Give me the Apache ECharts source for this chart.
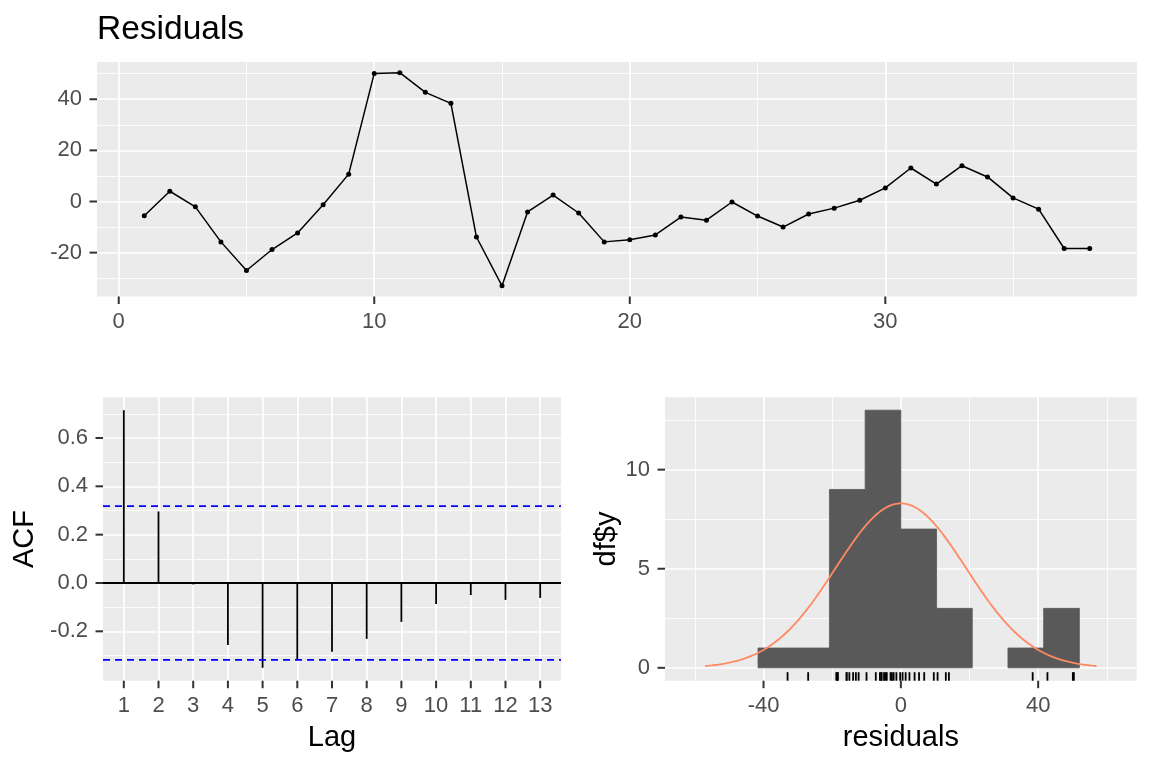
<!DOCTYPE html>
<html>
<head>
<meta charset="utf-8">
<script src="https://cdn.jsdelivr.net/npm/echarts@6/dist/echarts.min.js"></script>
<style>
html,body{margin:0;padding:0;background:#ffffff;}
#c{width:1152px;height:768px;}
</style>
</head>
<body>
<div id="c"></div>
<script>
// ---------- data ----------
const timeIndex = [1,2,3,4,5,6,7,8,9,10,11,12,13,14,15,16,17,18,19,20,21,22,23,24,25,26,27,28,29,30,31,32,33,34,35,36,37,38];
const residuals = [-5.6,4.0,-2.1,-15.8,-27.0,-18.8,-12.3,-1.3,10.7,50.1,50.4,42.7,38.4,-13.9,-33.0,-4.1,2.5,-4.5,-15.8,-15.0,-13.1,-6.1,-7.3,-0.2,-5.7,-10.0,-4.9,-2.6,0.5,5.3,13.1,6.8,14.0,9.6,1.4,-3.0,-18.4,-18.4];

const acfLags = [1,2,3,4,5,6,7,8,9,10,11,12,13];
const acfValues = [0.715,0.296,-0.006,-0.257,-0.351,-0.319,-0.285,-0.231,-0.161,-0.087,-0.050,-0.070,-0.062];
const acfCi = 0.318;

const histStart = -41.6;
const binWidth = 10.4;
const histCounts = [1,1,9,13,7,3,0,1,3];
const normalMean = 0;
const normalSd = 19.0;
const histXRange = [-68.7, 68.7];

const topXTicks = [0,10,20,30];
const topXMinor = [5,15,25,35];
const topYTicks = [-20,0,20,40];
const topYMinor = [-30,-10,10,30,50];
const acfYTicks = [-0.2,0,0.2,0.4,0.6];
const acfYMinor = [-0.3,-0.1,0.1,0.3,0.5,0.7];
const histXTicks = [-40,0,40];
const histXMinor = [-60,-20,20,60];
const histYTicks = [0,5,10];
const histYMinor = [2.5,7.5,12.5];

// ---------- helpers ----------
const FONT = '"Liberation Sans", Arial, sans-serif';
function expand(lo, hi) { const r = hi - lo; return [lo - 0.05 * r, hi + 0.05 * r]; }

const topXRange = expand(Math.min(...timeIndex), Math.max(...timeIndex));
const topYRange = expand(Math.min(...residuals), Math.max(...residuals));
const acfXRange = expand(Math.min(...acfLags), Math.max(...acfLags));
const acfYRange = expand(Math.min(...acfValues, -acfCi), Math.max(...acfValues, acfCi));
const histYRange = expand(0, Math.max(...histCounts));

// tick labels carry their own tick mark (rich-text box) so the mark sits just outside the panel
const TICK_LEN = 7.5;
function labelX(ticks, fmt) {
  return {
    show: true, customValues: ticks, margin: 0,
    formatter: v => '{k| }\n{t|' + (fmt ? fmt(v) : v) + '}',
    rich: {
      k: {width: 2, height: TICK_LEN, lineHeight: TICK_LEN, fontSize: 2, backgroundColor: '#333333'},
      t: {fontSize: 22, lineHeight: 35, color: '#4D4D4D', fontFamily: FONT}
    }
  };
}
function labelY(ticks, fmt) {
  return {
    show: true, customValues: ticks, margin: 0,
    formatter: v => '{t|' + (fmt ? fmt(v) : v) + '}{k| }',
    rich: {
      k: {width: TICK_LEN, height: 2, fontSize: 2, backgroundColor: '#333333'},
      t: {fontSize: 22, color: '#4D4D4D', fontFamily: FONT, padding: [0, 7.5, 0, 0]}
    }
  };
}

function majorAxis(gridIndex, range, ticks, label, extra) {
  return Object.assign({
    type: 'value', gridIndex: gridIndex, min: range[0], max: range[1],
    axisLine: {show: false, onZero: false},
    axisTick: {show: false, customValues: ticks},
    axisLabel: label,
    splitLine: {show: true, lineStyle: {color: '#FFFFFF', width: 1.7}},
    minorTick: {show: false}, minorSplitLine: {show: false}
  }, extra || {});
}
function minorAxis(gridIndex, range, ticks) {
  return {
    type: 'value', gridIndex: gridIndex, min: range[0], max: range[1],
    axisLine: {show: false, onZero: false},
    axisTick: {show: false, customValues: ticks},
    axisLabel: {show: false, customValues: ticks},
    splitLine: {show: true, lineStyle: {color: '#FFFFFF', width: 0.85}}
  };
}

// normal density scaled to counts
const nCount = residuals.length;
const normalCurve = [];
for (let k = 0; k <= 240; k++) {
  const x = normalMean - 3 * normalSd + k * (6 * normalSd / 240);
  const z = (x - normalMean) / normalSd;
  normalCurve.push([x, nCount * binWidth * Math.exp(-0.5 * z * z) / (normalSd * Math.sqrt(2 * Math.PI))]);
}

const histData = histCounts.map((c, i) => [histStart + i * binWidth, histStart + (i + 1) * binWidth, c]);

const axisNameStyle = {fontSize: 29, color: '#000000', fontFamily: FONT};

const chart = echarts.init(document.getElementById('c'), null, {renderer: 'canvas'});
const option = {
  animation: false,
  backgroundColor: '#FFFFFF',
  title: {
    text: 'Residuals', left: 97, top: 13, padding: 0,
    textStyle: {fontSize: 33.5, fontWeight: 'normal', color: '#000000', fontFamily: FONT}
  },
  grid: [
    {left: 97, top: 62, width: 1040, height: 234.5, show: true, backgroundColor: '#EBEBEB', borderWidth: 0},
    {left: 103, top: 397.3, width: 458, height: 283.4, show: true, backgroundColor: '#EBEBEB', borderWidth: 0},
    {left: 665, top: 397.3, width: 471.7, height: 283.4, show: true, backgroundColor: '#EBEBEB', borderWidth: 0}
  ],
  xAxis: [
    majorAxis(0, topXRange, topXTicks, labelX(topXTicks)),
    minorAxis(0, topXRange, topXMinor),
    majorAxis(1, acfXRange, acfLags, labelX(acfLags), {
      name: 'Lag', nameLocation: 'middle', nameGap: 43, nameTextStyle: axisNameStyle
    }),
    majorAxis(2, histXRange, histXTicks, labelX(histXTicks), {
      name: 'residuals', nameLocation: 'middle', nameGap: 43, nameTextStyle: axisNameStyle
    }),
    minorAxis(2, histXRange, histXMinor)
  ],
  yAxis: [
    majorAxis(0, topYRange, topYTicks, labelY(topYTicks)),
    minorAxis(0, topYRange, topYMinor),
    majorAxis(1, acfYRange, acfYTicks, labelY(acfYTicks, v => Number(v).toFixed(1)), {
      name: 'ACF', nameLocation: 'middle', nameGap: 64, nameRotate: 90, nameTextStyle: axisNameStyle
    }),
    minorAxis(1, acfYRange, acfYMinor),
    majorAxis(2, histYRange, histYTicks, labelY(histYTicks), {
      name: 'df$y', nameLocation: 'middle', nameGap: 44, nameRotate: 90, nameTextStyle: axisNameStyle
    }),
    minorAxis(2, histYRange, histYMinor)
  ],
  series: [
    {
      type: 'line', xAxisIndex: 0, yAxisIndex: 0,
      data: timeIndex.map((t, i) => [t, residuals[i]]),
      symbol: 'circle', symbolSize: 5, showSymbol: true,
      itemStyle: {color: '#000000'}, lineStyle: {color: '#000000', width: 1.5},
      silent: true, z: 3
    },
    {
      type: 'custom', xAxisIndex: 2, yAxisIndex: 2,
      data: [[acfLags[0], 0]],
      renderItem: function (params, api) {
        const cs = params.coordSys;
        const y = api.coord([api.value(0), api.value(1)])[1];
        return {type: 'line', shape: {x1: cs.x, y1: y, x2: cs.x + cs.width, y2: y},
          style: {stroke: '#000000', lineWidth: 1.8}};
      },
      silent: true, z: 2
    },
    {
      type: 'custom', xAxisIndex: 2, yAxisIndex: 2,
      data: acfLags.map((l, i) => [l, acfValues[i]]),
      renderItem: function (params, api) {
        const p0 = api.coord([api.value(0), 0]);
        const p1 = api.coord([api.value(0), api.value(1)]);
        return {type: 'line', shape: {x1: p0[0], y1: p0[1], x2: p1[0], y2: p1[1]},
          style: {stroke: '#000000', lineWidth: 1.8}};
      },
      silent: true, z: 3
    },
    {
      type: 'custom', xAxisIndex: 2, yAxisIndex: 2,
      data: [[acfLags[0], acfCi], [acfLags[0], -acfCi]],
      renderItem: function (params, api) {
        const cs = params.coordSys;
        const y = api.coord([api.value(0), api.value(1)])[1];
        return {type: 'line', shape: {x1: cs.x, y1: y, x2: cs.x + cs.width, y2: y},
          style: {stroke: '#0000FF', lineWidth: 1.7, lineDash: [7, 5]}};
      },
      silent: true, z: 4
    },
    {
      type: 'custom', xAxisIndex: 3, yAxisIndex: 4,
      data: histData,
      encode: {x: [0, 1], y: 2},
      renderItem: function (params, api) {
        if (api.value(2) <= 0) return null;
        const p0 = api.coord([api.value(0), api.value(2)]);
        const p1 = api.coord([api.value(1), 0]);
        return {type: 'rect', shape: {x: p0[0], y: p0[1], width: p1[0] - p0[0], height: p1[1] - p0[1]},
          style: {fill: '#595959', stroke: '#595959', lineWidth: 0.8}};
      },
      silent: true, z: 2
    },
    {
      type: 'custom', xAxisIndex: 3, yAxisIndex: 4,
      data: residuals.map(v => [v, 0]),
      renderItem: function (params, api) {
        const cs = params.coordSys;
        const x = api.coord([api.value(0), 0])[0];
        const bottom = cs.y + cs.height;
        return {type: 'line', shape: {x1: x, y1: bottom, x2: x, y2: bottom - 8.5},
          style: {stroke: '#000000', lineWidth: 1.8}};
      },
      silent: true, z: 3
    },
    {
      type: 'line', xAxisIndex: 3, yAxisIndex: 4,
      data: normalCurve, showSymbol: false, symbol: 'none',
      lineStyle: {color: '#FF8A62', width: 1.8}, silent: true, z: 4
    }
  ]
};
chart.setOption(option);
</script>
</body>
</html>
